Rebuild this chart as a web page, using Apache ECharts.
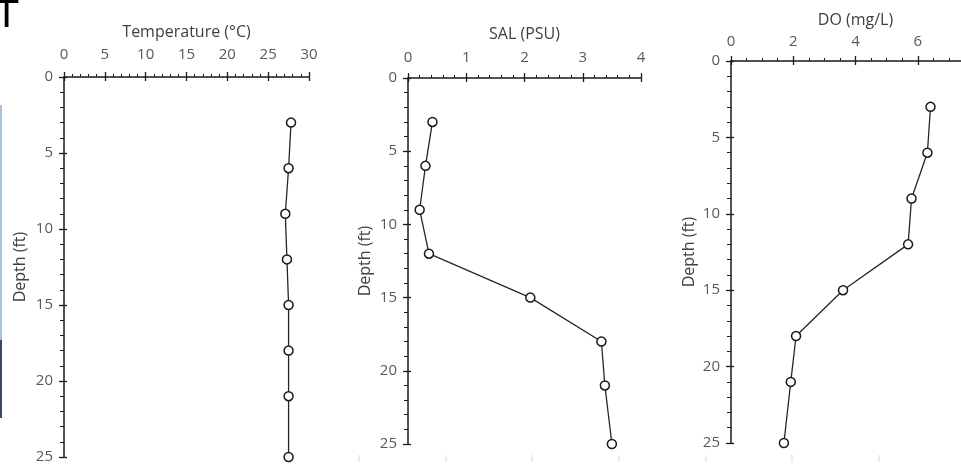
<!DOCTYPE html>
<html>
<head>
<meta charset="utf-8">
<script src="https://cdn.jsdelivr.net/npm/echarts@6/dist/echarts.min.js"></script>
<style>
  html, body { margin: 0; padding: 0; background: #fff; }
  #chart { width: 961px; height: 471px; }
</style>
</head>
<body>
<div id="chart"></div>
<script>
const depth = [3, 6, 9, 12, 15, 18, 21, 25]
const temperature = [27.8, 27.5, 27.1, 27.3, 27.5, 27.5, 27.5, 27.5]
const salinity = [0.42, 0.30, 0.20, 0.36, 2.10, 3.32, 3.38, 3.50]
const dissolvedOxygen = [6.41, 6.31, 5.80, 5.69, 3.60, 2.09, 1.92, 1.70]

const panels = [
  { name: 'Temperature (°C)', values: temperature, max: 30, interval: 5, minor: 5,
    grid: { left: 64, top: 77, width: 245, height: 380 }, labelGap: 15, nameGap: 37, yNameGap: 36 },
  { name: 'SAL (PSU)', values: salinity, max: 4, interval: 1, minor: 5,
    grid: { left: 408, top: 78, width: 233, height: 366 }, labelGap: 13, nameGap: 36, yNameGap: 35 },
  { name: 'DO (mg/L)', values: dissolvedOxygen, max: 8, interval: 2, minor: 4,
    grid: { left: 731, top: 61, width: 249, height: 382 }, labelGap: 12, nameGap: 33, yNameGap: 34 }
]

const axisColor = '#1a1a1a'
const labelColor = '#595959'
const font = '"Open Sans", sans-serif'

const grid = [], xAxis = [], yAxis = [], series = []

panels.forEach((p, i) => {
  // v6 shrinks grids to keep labels inside; the DO panel is meant to run off the edge
  grid.push(Object.assign({ containLabel: false, outerBoundsMode: 'none' }, p.grid))

  // main axes: labels, line, outside ticks
  xAxis.push({
    gridIndex: i, type: 'value', position: 'top', min: 0, max: p.max, interval: p.interval,
    name: p.name, nameLocation: 'middle', nameGap: p.nameGap,
    nameTextStyle: { color: '#404040', fontSize: 16, fontFamily: font },
    axisLine: { show: true, lineStyle: { color: axisColor, width: 1.5 } },
    axisTick: { show: true, length: 5, lineStyle: { color: axisColor, width: 1.3 } },
    minorTick: { show: true, splitNumber: p.minor, length: 3, lineStyle: { color: axisColor, width: 1 } },
    axisLabel: { color: labelColor, fontSize: 15, fontFamily: font, margin: p.labelGap },
    splitLine: { show: false }
  })
  yAxis.push({
    gridIndex: i, type: 'value', inverse: true, min: 0, max: 25, interval: 5,
    name: 'Depth (ft)', nameLocation: 'middle', nameGap: p.yNameGap,
    nameTextStyle: { color: '#404040', fontSize: 16, fontFamily: font },
    axisLine: { show: true, lineStyle: { color: axisColor, width: 1.5 } },
    axisTick: { show: true, length: 5, lineStyle: { color: axisColor, width: 1.3 } },
    minorTick: { show: true, splitNumber: 5, length: 4, lineStyle: { color: axisColor, width: 1 } },
    axisLabel: { color: labelColor, fontSize: 15, fontFamily: font, margin: 11 },
    splitLine: { show: false }
  })

  // twin axes only for the inner half of the crossing major ticks
  xAxis.push({
    gridIndex: i, type: 'value', position: 'top', min: 0, max: p.max, interval: p.interval,
    axisLine: { show: false }, axisLabel: { show: false }, splitLine: { show: false },
    axisTick: { show: true, inside: true, length: 4, lineStyle: { color: axisColor, width: 1.3 } }
  })
  yAxis.push({
    gridIndex: i, type: 'value', inverse: true, min: 0, max: 25, interval: 5, position: 'left',
    axisLine: { show: false }, axisLabel: { show: false }, splitLine: { show: false },
    axisTick: { show: true, inside: true, length: 3, lineStyle: { color: axisColor, width: 1.3 } }
  })

  series.push({
    type: 'line', xAxisIndex: i * 2, yAxisIndex: i * 2,
    data: depth.map((d, k) => [p.values[k], d]),
    symbol: 'circle', symbolSize: 9,
    lineStyle: { color: '#262626', width: 1.3 },
    itemStyle: { color: '#fff', borderColor: '#1a1a1a', borderWidth: 1.5 },
    emphasis: { disabled: true },
    animation: false, z: 5
  })
})

// leftovers of the cropped screenshot: edge glyph, blue strip, faint gridlines below
const bottomLines = [359, 446, 532, 619, 706, 792, 879].map(x => ({
  type: 'line', shape: { x1: x, y1: 455, x2: x, y2: 462 },
  style: { stroke: '#d9d9d9', lineWidth: 1 }
}))

const chart = echarts.init(document.getElementById('chart'))
chart.setOption({
  animation: false,
  grid, xAxis, yAxis, series,
  graphic: [
    { type: 'text', left: -5, top: -2, style: { text: 'T', fontSize: 38, fontFamily: '"DejaVu Sans", sans-serif', fill: '#000' } },
    { type: 'rect', shape: { x: 0, y: 105, width: 2, height: 313 }, style: { fill: '#a9c0e0' } },
    { type: 'rect', shape: { x: 0, y: 340, width: 2, height: 78 }, style: { fill: '#3b4660' } }
  ].concat(bottomLines)
})
</script>
</body>
</html>
